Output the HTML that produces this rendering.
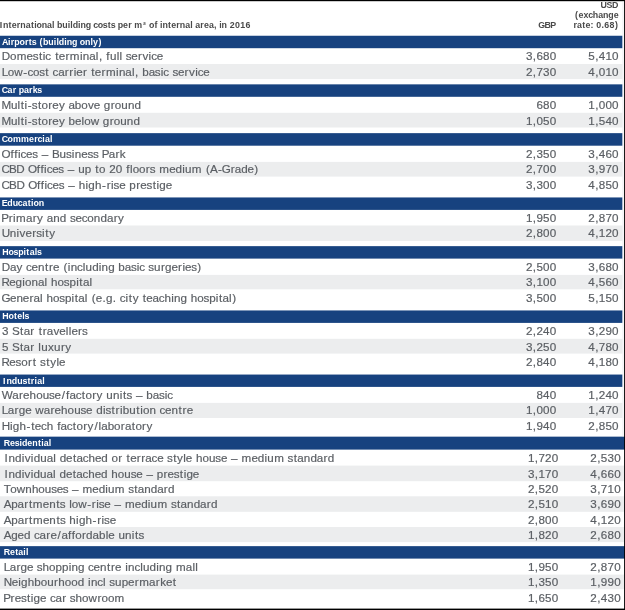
<!DOCTYPE html>
<html><head><meta charset="utf-8"><title>International building costs</title>
<style>
html,body{margin:0;padding:0;background:#fff;}
body{width:625px;height:610px;position:relative;overflow:hidden;font-family:"Liberation Sans",sans-serif;}
.x{position:absolute;left:0;top:0;width:625px;height:610px;filter:blur(0.4px);font-variant-ligatures:none;font-kerning:none;}
.r{font-size:11.0px;font-weight:400;fill:#5a5e63;stroke:#5a5e63;stroke-width:0.18px;}
.h{font-size:8.2px;font-weight:700;fill:#fff;}
.c{font-size:8.2px;font-weight:700;fill:#4a4a4a;}
</style></head><body>
<svg width="625" height="610" viewBox="0 0 625 610" style="position:absolute;left:0;top:0" shape-rendering="geometricPrecision">
<rect x="0" y="64.00" width="622.4" height="15.10" fill="#ecedee"/>
<rect x="0" y="35.75" width="622.4" height="12.45" fill="#17427f"/>
<rect x="0" y="112.80" width="622.4" height="14.70" fill="#ecedee"/>
<rect x="0" y="84.35" width="622.4" height="12.45" fill="#17427f"/>
<rect x="0" y="161.90" width="622.4" height="14.70" fill="#ecedee"/>
<rect x="0" y="133.15" width="622.4" height="12.55" fill="#17427f"/>
<rect x="0" y="225.50" width="622.4" height="15.40" fill="#ecedee"/>
<rect x="0" y="197.45" width="622.4" height="12.45" fill="#17427f"/>
<rect x="0" y="274.90" width="622.4" height="14.40" fill="#ecedee"/>
<rect x="0" y="246.15" width="622.4" height="12.45" fill="#17427f"/>
<rect x="0" y="338.80" width="622.4" height="14.80" fill="#ecedee"/>
<rect x="0" y="310.45" width="622.4" height="12.45" fill="#17427f"/>
<rect x="0" y="402.90" width="622.4" height="15.10" fill="#ecedee"/>
<rect x="0" y="374.55" width="622.4" height="12.35" fill="#17427f"/>
<rect x="0" y="465.60" width="624" height="15.60" fill="#ecedee"/>
<rect x="0" y="496.30" width="624" height="15.50" fill="#ecedee"/>
<rect x="0" y="527.00" width="624" height="15.10" fill="#ecedee"/>
<rect x="0" y="436.65" width="625" height="12.95" fill="#17427f"/>
<rect x="0" y="574.60" width="624" height="14.60" fill="#ecedee"/>
<rect x="0" y="546.15" width="625" height="12.45" fill="#17427f"/>
<rect x="0" y="0" width="625" height="1.2" fill="#000"/>
<rect x="622.75" y="1" width="0.5" height="435.6" fill="#d9dce1"/>
<rect x="624.1" y="0" width="0.9" height="610" fill="#000"/>
<rect x="0" y="608.6" width="625" height="1.4" fill="#000"/>
</svg>
<svg class="x" width="625" height="610" viewBox="0 0 625 610">
<g transform="scale(1.06 1)">
<text class="r" y="60" x="1.74 9.49 15.81 25.12 30.97 36.74 40.36 42.78 48.34 52.04 55.42 61.72 65.92 75.47 78.14 84.26 90.44 93.31 96.86 100.35 103.7 110.05 112.77 115.57 118.68 123.92 130.22 134.36 140.19 142.61 147.84">Domestic terminal, full service</text>
<text class="r" y="60" x="496.18 502.65 506.05 512.33 518.61">3,680</text>
<text class="r" y="60" x="555.05 561.52 564.92 571.2 577.48">5,410</text>
<text class="r" y="76" x="1.59 7.35 13.51 21.95 25.87 31.15 37.05 42.81 46.5 49.61 54.86 61.18 65.41 69.49 71.97 78.26 82.42 86.12 89.49 95.79 99.98 109.52 112.18 118.29 124.46 127.32 130.87 134.17 140.23 146.1 151.57 153.99 159.53 162.64 167.86 174.16 178.29 184.11 186.52 191.75">Low-cost carrier terminal, basic service</text>
<text class="r" y="76" x="496.18 502.65 506.05 512.33 518.61">2,730</text>
<text class="r" y="76" x="555.05 561.52 564.92 571.2 577.48">4,010</text>
<text class="r" y="109" x="1.47 10.28 16.59 19.59 23.19 26.18 30.08 35.82 39.23 45.56 49.38 55.55 61.43 64.6 70.64 76.72 82.95 88.5 94.71 97.99 104.4 108.28 114.4 120.65 126.85">Multi-storey above ground</text>
<text class="r" y="109" x="506.05 512.33 518.61">680</text>
<text class="r" y="109" x="555.05 561.52 564.92 571.2 577.48">1,000</text>
<text class="r" y="125" x="1.47 10.28 16.59 19.59 23.2 26.19 30.08 35.82 39.24 45.57 49.39 55.56 61.45 64.73 70.75 76.88 79.4 85.52 93.74 97.03 103.44 107.32 113.44 119.69 125.89">Multi-storey below ground</text>
<text class="r" y="125" x="496.18 502.65 506.05 512.33 518.61">1,050</text>
<text class="r" y="125" x="555.05 561.52 564.92 571.2 577.48">1,540</text>
<text class="r" y="158" x="1.54 9.98 13.49 16.92 19.36 24.63 30.52 36.1 39.5 45.96 49 56.19 62.26 67.76 70.46 76.59 82.48 87.68 93.26 95.89 102.51 108.86 113.03">Offices – Business Park</text>
<text class="r" y="158" x="496.18 502.65 506.05 512.33 518.61">2,350</text>
<text class="r" y="158" x="555.05 561.52 564.92 571.2 577.48">3,460</text>
<text class="r" y="173" x="1.37 8.52 15.43 23.43 26.31 34.7 38.18 41.59 44 49.22 55.05 60.59 63.95 70.37 73.71 79.93 86.28 89.97 93.4 99.67 103.03 109.32 115.74 119.22 122.63 125.15 131.16 137.51 141.28 146.82 150.32 159.61 165.64 171.92 174.58 181 190.61 194.3 198.09 205.56 209.2 217.6 221.46 227.51 233.55 239.97">CBD Offices – up to 20 floors medium (A-Grade)</text>
<text class="r" y="173" x="496.18 502.65 506.05 512.33 518.61">2,700</text>
<text class="r" y="173" x="555.05 561.52 564.92 571.2 577.48">3,970</text>
<text class="r" y="189" x="1.4 8.61 15.57 23.61 26.55 34.98 38.49 41.92 44.36 49.62 55.5 61.08 64.48 70.93 74.32 80.68 83.32 89.59 96.24 100.64 104.74 107.19 112.45 118.71 122.04 128.51 132.38 138.26 144.05 147.69 150.34 156.42">CBD Offices – high-rise prestige</text>
<text class="r" y="189" x="496.18 502.65 506.05 512.33 518.61">3,300</text>
<text class="r" y="189" x="555.05 561.52 564.92 571.2 577.48">4,850</text>
<text class="r" y="222" x="1.22 8.18 12.28 15.12 24.47 30.81 34.95 40.87 44.08 50.21 56.46 62.84 65.96 71.2 77.07 82.37 88.54 94.78 100.87 107.21 111.36">Primary and secondary</text>
<text class="r" y="222" x="496.18 502.65 506.05 512.33 518.61">1,950</text>
<text class="r" y="222" x="555.05 561.52 564.92 571.2 577.48">2,870</text>
<text class="r" y="237" x="1.57 9.28 15.65 18.44 24.05 30.38 34.18 39.68 42.71 46.4">University</text>
<text class="r" y="237" x="496.18 502.65 506.05 512.33 518.61">2,800</text>
<text class="r" y="237" x="555.05 561.52 564.92 571.2 577.48">4,120</text>
<text class="r" y="271" x="1.71 9.39 15.58 21.45 24.53 29.73 35.79 42.38 46.13 49.94 56.15 59.82 64.02 66.66 72.65 78.1 80.74 86.94 93.2 95.83 102.03 108.37 111.64 117.67 123.51 128.97 131.36 136.88 139.97 145.35 151.8 155.75 161.76 168.03 172.1 174.55 180.37 186.09">Day centre (including basic surgeries)</text>
<text class="r" y="271" x="496.18 502.65 506.05 512.33 518.61">2,500</text>
<text class="r" y="271" x="555.05 561.52 564.92 571.2 577.48">3,680</text>
<text class="r" y="286" x="1.36 8.68 14.73 21.02 23.56 29.71 35.83 42.01 44.8 48.16 54.31 60.21 65.58 71.87 74.88 78.29 84.46">Regional hospital</text>
<text class="r" y="286" x="496.18 502.65 506.05 512.33 518.61">3,100</text>
<text class="r" y="286" x="555.05 561.52 564.92 571.2 577.48">4,560</text>
<text class="r" y="302" x="1.43 9.42 15.48 21.54 27.81 31.65 37.81 40.59 43.92 50.03 55.91 61.24 67.51 70.5 73.88 80.03 82.81 86.48 90.44 96.7 100.04 106.44 109.97 113.05 118.5 121.5 125.14 131.01 134.69 138.05 143.95 149.79 155.17 161.49 164.13 170.32 176.66 179.99 186.1 191.98 197.31 203.58 206.57 209.95 216.1 219.09">General hospital (e.g. city teaching hospital)</text>
<text class="r" y="302" x="496.18 502.65 506.05 512.33 518.61">3,500</text>
<text class="r" y="302" x="555.05 561.52 564.92 571.2 577.48">5,150</text>
<text class="r" y="335" x="1.98 8.42 11.42 18.91 22.32 28.65 32.82 36.52 40.29 44.17 50.4 55.98 62.14 64.87 67.35 73.66 77.44">3 Star travellers</text>
<text class="r" y="335" x="496.18 502.65 506.05 512.33 518.61">2,240</text>
<text class="r" y="335" x="555.05 561.52 564.92 571.2 577.48">3,290</text>
<text class="r" y="351" x="1.98 8.41 11.4 18.89 22.29 28.61 32.77 36.18 38.84 45.23 50.99 57.47 61.61">5 Star luxury</text>
<text class="r" y="351" x="496.18 502.65 506.05 512.33 518.61">3,250</text>
<text class="r" y="351" x="555.05 561.52 564.92 571.2 577.48">4,780</text>
<text class="r" y="366" x="1.41 8.8 14.71 20.07 26.48 30.91 34.65 37.81 43.62 47.35 53.22 55.75">Resort style</text>
<text class="r" y="366" x="496.18 502.65 506.05 512.33 518.61">2,840</text>
<text class="r" y="366" x="555.05 561.52 564.92 571.2 577.48">4,180</text>
<text class="r" y="399" x="1.61 11.64 17.97 21.82 27.93 34.09 40.25 46.29 51.53 58.28 62.28 65.48 71.36 77.13 80.57 86.94 91.08 96.99 100.35 106.64 112.98 116 119.32 124.88 128.26 134.69 138.01 144.09 149.97 155.45 157.87">Warehouse/factory units – basic</text>
<text class="r" y="399" x="506.05 512.33 518.61">840</text>
<text class="r" y="399" x="555.05 561.52 564.92 571.2 577.48">1,240</text>
<text class="r" y="414" x="1.6 7.35 13.68 17.68 23.73 29.97 33.35 41.32 47.65 51.51 57.61 63.78 69.94 75.99 81.23 87.47 90.78 97.08 99.51 105.28 109.06 113.15 115.78 122.02 128.66 132.29 134.83 141 147.42 150.54 155.78 161.89 168.52 172.3 176.16">Large warehouse distribution centre</text>
<text class="r" y="414" x="496.18 502.65 506.05 512.33 518.61">1,000</text>
<text class="r" y="414" x="555.05 561.52 564.92 571.2 577.48">1,470</text>
<text class="r" y="430" x="1.64 9.47 12.08 18.31 24.92 29.42 32.8 38.64 44.05 50.46 53.94 57.13 63 68.75 72.18 78.53 82.66 89.06 92.98 95.48 101.54 107.64 113.99 117.85 124.31 127.74 134.09 138.22">High-tech factory/laboratory</text>
<text class="r" y="430" x="496.18 502.65 506.05 512.33 518.61">1,940</text>
<text class="r" y="430" x="555.05 561.52 564.92 571.2 577.48">2,850</text>
<text class="r" y="462" x="4.33 8.02 14.25 20.53 23.29 29.12 31.73 37.95 44.06 50.24 53.03 56.33 62.37 68.81 72.2 78.07 83.48 89.57 95.61 101.97 105.19 111.54 115.7 119.39 122.77 129.06 133.29 137.15 143.02 148.25 154.47 157.57 163.33 166.99 172.81 175.29 181.51 184.86 191.01 197.15 203.18 208.4 214.63 217.99 224.41 227.92 237.22 243.26 249.54 252.2 258.63 268.25 271.35 277.11 280.51 286.62 292.84 298.9 305.22 309.2">Individual detached or terrace style house – medium standard</text>
<text class="r" y="462" x="498.07 504.54 507.94 514.22 520.5">1,720</text>
<text class="r" y="462" x="556.94 563.4 566.81 573.09 579.37">2,530</text>
<text class="r" y="478" x="4.33 8.01 14.21 20.49 23.24 29.05 31.65 37.86 43.96 50.12 52.91 56.2 62.23 68.65 72.04 77.89 83.29 89.36 95.39 101.74 105.07 111.2 117.33 123.35 128.56 134.77 138.12 144.53 147.82 154.24 158.07 163.9 169.64 173.25 175.85 181.88">Individual detached house – prestige</text>
<text class="r" y="478" x="498.07 504.54 507.94 514.22 520.5">3,170</text>
<text class="r" y="478" x="556.94 563.4 566.81 573.09 579.37">4,660</text>
<text class="r" y="493" x="3.44 9.75 15.84 23.88 30.1 36.18 42.27 48.25 53.43 59.22 64.73 68.05 74.43 77.88 87.11 93.09 99.34 101.96 108.32 117.88 120.94 126.66 130.01 136.07 142.24 148.25 154.52 158.45">Townhouses – medium standard</text>
<text class="r" y="493" x="498.07 504.54 507.94 514.22 520.5">2,520</text>
<text class="r" y="493" x="556.94 563.4 566.81 573.09 579.37">3,710</text>
<text class="r" y="508" x="3.49 10.56 16.62 22.93 27.29 31 40.28 46.36 52.97 56.28 61.82 65.22 67.75 73.89 82.32 86.68 90.76 93.17 98.38 104.6 107.96 114.37 117.87 127.15 133.18 139.46 142.11 148.54 158.14 161.24 166.99 170.38 176.48 182.69 188.75 195.06 199.03">Apartments low-rise – medium standard</text>
<text class="r" y="508" x="498.07 504.54 507.94 514.22 520.5">2,510</text>
<text class="r" y="508" x="556.94 563.4 566.81 573.09 579.37">3,690</text>
<text class="r" y="524" x="3.5 10.61 16.69 23.03 27.41 31.15 40.47 46.58 53.21 56.54 62.1 65.46 71.81 74.43 80.68 87.31 91.68 95.78 98.21 103.45">Apartments high-rise</text>
<text class="r" y="524" x="498.07 504.54 507.94 514.22 520.5">2,800</text>
<text class="r" y="524" x="556.94 563.4 566.81 573.09 579.37">4,120</text>
<text class="r" y="539" x="3.49 10.58 16.62 22.66 29.02 32.13 37.38 43.7 47.54 54.27 57.97 64.22 67.7 70.92 77.27 81.25 87.31 93.38 99.66 102.14 108.37 111.71 117.99 124.32 127.33 130.64">Aged care/affordable units</text>
<text class="r" y="539" x="498.07 504.54 507.94 514.22 520.5">1,820</text>
<text class="r" y="539" x="556.94 563.4 566.81 573.09 579.37">2,680</text>
<text class="r" y="571" x="3.46 9.18 15.49 19.45 25.47 31.68 34.77 40.16 46.28 52.36 58.52 64.79 67.43 73.64 79.98 83.07 88.28 94.35 100.96 104.71 108.53 114.74 118.14 120.79 126.8 132.26 134.9 141.11 147.38 150.02 156.23 162.57 166.06 175.36 181.52 184.23">Large shopping centre including mall</text>
<text class="r" y="571" x="498.07 504.54 507.94 514.22 520.5">1,950</text>
<text class="r" y="571" x="556.94 563.4 566.81 573.09 579.37">2,870</text>
<text class="r" y="586" x="3.51 11.08 17.24 19.85 26.07 32.3 38.4 44.54 51.02 55.05 61.19 67.21 73.31 79.67 83.08 85.74 91.77 97.24 100.04 103.14 108.55 114.78 120.82 127.12 131.31 140.63 146.95 151.08 156.66 163.09">Neighbourhood incl supermarket</text>
<text class="r" y="586" x="498.07 504.54 507.94 514.22 520.5">1,350</text>
<text class="r" y="586" x="556.94 563.4 566.81 573.09 579.37">1,990</text>
<text class="r" y="602" x="3.09 10.03 13.87 19.72 25.47 29.09 31.7 37.74 43.96 47.07 52.32 58.63 62.79 65.9 71.3 77.45 83.6 91.91 95.8 101.82 108.12">Prestige car showroom</text>
<text class="r" y="602" x="498.07 504.54 507.94 514.22 520.5">1,650</text>
<text class="r" y="602" x="556.94 563.4 566.81 573.09 579.37">2,430</text>
</g>
<g transform="scale(1.08 1)">
<text class="h" y="45" x="1.78 7.5 9.98 13.24 18.07 23.11 26.67 29.41 33.81 36.67 39.87 44.79 49.83 52.22 54.48 59.48 61.79 66.71 71.71 73.94 78.82 83.86 86.18 91.26">Airports (building only)</text>
<text class="h" y="93" x="1.57 7.04 11.73 15.08 17.29 22.22 26.92 30.25 34.6">Car parks</text>
<text class="h" y="142" x="1.62 7.05 12.04 19.49 26.92 31.69 34.82 39.23 41.65 46.34">Commercial</text>
<text class="h" y="206" x="1.7 6.77 11.72 16.5 20.9 25.76 28.78 31.03 35.93">Education</text>
<text class="h" y="255" x="2.01 7.81 12.52 16.83 21.85 24.42 27.45 32.13 34.27">Hospitals</text>
<text class="h" y="319" x="2.01 7.81 12.95 15.96 20.63 22.77">Hotels</text>
<text class="h" y="384" x="2.83 5.93 10.93 15.93 20.77 25.41 28.55 31.98 34.42 39.14">Industrial</text>
<text class="h" y="446" x="3.56 9.29 13.67 18.07 20.34 25.31 29.89 35.1 38.11 40.49 45.15">Residential</text>
<text class="h" y="555" x="3.54 9.23 14.02 17 21.64 24.01">Retail</text>
<text class="c" y="28" x="-0.18 2.79 7.96 10.91 15.6 18.86 23.85 28.64 31.62 33.8 38.63 43.61 48.24 50.6 52.83 57.69 62.7 65.05 67.28 72.24 74.51 79.38 84.33 86.4 90.57 95.21 99.75 102.45 106.82 109.04 113.97 118.66 122.01 124.33 132.33 135.81 138 142.96 145.82 148.18 150.45 155.62 158.57 163.26 166.52 171.51 176.13 178.49 180.84 185.54 188.86 193.45 198.15 200.57 202.93 205.2 210.2 212.69 217.6 222.51 227.41">International building costs per m² of internal area, in 2016</text>
<text class="c" y="28" x="498.44 504.16 509.6">GBP</text>
<text class="c" y="8" x="556 561.57 566.75">USD</text>
<text class="c" y="18" x="532.45 535.7 540.3 544.63 548.89 553.88 558.41 563.28 568.21">(exchange</text>
<text class="c" y="28" x="531.04 534.38 539.17 542.12 546.71 549.5 552 556.84 559.39 564.3 569.54">rate: 0.68)</text>
</g>
</svg>
</body></html>
